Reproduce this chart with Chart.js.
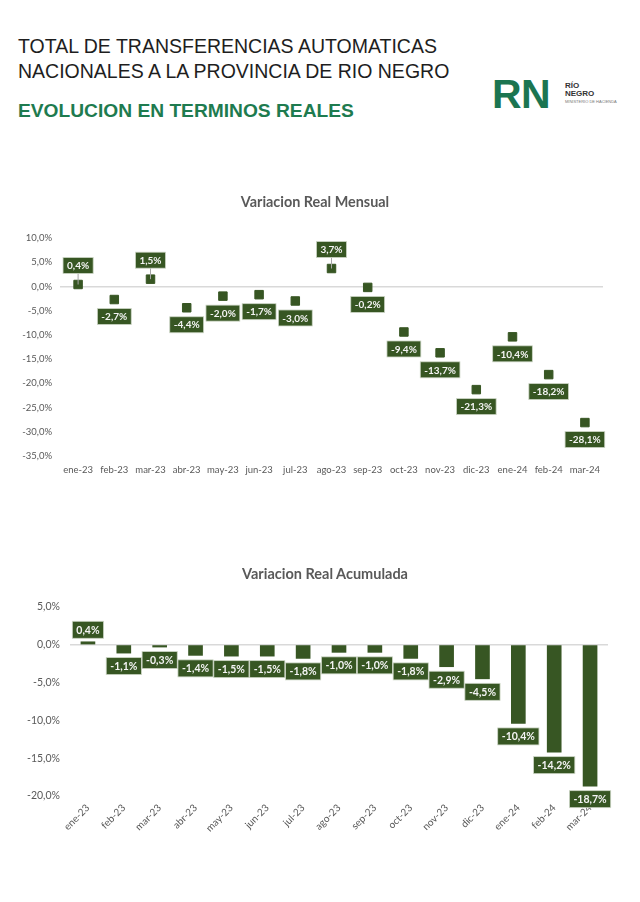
<!DOCTYPE html>
<html>
<head>
<meta charset="utf-8">
<script src="https://cdn.jsdelivr.net/npm/chart.js@4.4.0/dist/chart.umd.min.js"></script>
<style>
  body { margin: 0; background: #fff; width: 640px; height: 902px; position: relative; overflow: hidden; font-family: "Liberation Sans", Arial, sans-serif; }
  .t1 { position: absolute; left: 18px; top: 34px; font-size: 19.5px; line-height: 25px; color: #1e1e1e; }
  .t2 { position: absolute; left: 18px; top: 100px; font-size: 19.2px; font-weight: bold; color: #1e7b4f; }
  .rn { position: absolute; left: 492px; top: 71px; font-size: 41px; font-weight: bold; color: #1b7551; letter-spacing: -0.5px; }
  .rn-side { position: absolute; left: 565px; top: 82px; font-size: 8px; font-weight: bold; line-height: 8px; color: #333; }
  .rn-min { position: absolute; left: 565px; top: 99px; font-size: 4px; color: #777; }
  .ct { position: absolute; width: 300px; text-align: center; font-family: Lato, "Open Sans", sans-serif; font-weight: bold; color: #595959; }
  #ct1 { left: 165px; top: 193px; font-size: 14.4px; }
  #ct2 { left: 175px; top: 565px; font-size: 14.5px; }
  canvas { position: absolute; left: 0; }
  #mensual { top: 185px; }
  #acumulada { top: 555px; }
</style>
</head>
<body>
<div class="t1">TOTAL DE TRANSFERENCIAS AUTOMATICAS<br>NACIONALES A LA PROVINCIA DE RIO NEGRO</div>
<div class="t2">EVOLUCION EN TERMINOS REALES</div>
<div class="rn">RN</div>
<div class="rn-side">RÍO<br>NEGRO</div>
<div class="rn-min">MINISTERIO DE HACIENDA</div>

<canvas id="mensual" width="640" height="300"></canvas>
<canvas id="acumulada" width="640" height="300"></canvas>
<div class="ct" id="ct1">Variacion Real Mensual</div>
<div class="ct" id="ct2">Variacion Real Acumulada</div>

<script>
// --- data ---
const meses = ["ene-23", "feb-23", "mar-23", "abr-23", "may-23", "jun-23", "jul-23", "ago-23",
               "sep-23", "oct-23", "nov-23", "dic-23", "ene-24", "feb-24", "mar-24"];
const variacionMensual = [0.4, -2.7, 1.5, -4.4, -2.0, -1.7, -3.0, 3.7, -0.2, -9.4, -13.7, -21.3, -10.4, -18.2, -28.1];
const variacionAcumulada = [0.4, -1.1, -0.3, -1.4, -1.5, -1.5, -1.8, -1.0, -1.0, -1.8, -2.9, -4.5, -10.4, -14.2, -18.7];

const verde = "#375623";
const gris = "#595959";
const chartFont = "Lato, 'Open Sans', sans-serif";

const pct = v => v.toFixed(1).replace(".", ",") + "%";

// boxed value labels (Excel style)
const boxLabels = {
  id: "boxLabels",
  afterDatasetsDraw(chart, args, opts) {
    const ctx = chart.ctx;
    const vals = chart.data.datasets[0].data;
    ctx.save();
    ctx.font = opts.font;
    ctx.textAlign = "center";
    ctx.textBaseline = "middle";
    chart.getDatasetMeta(0).data.forEach((el, i) => {
      const v = vals[i];
      const txt = pct(v);
      const w = ctx.measureText(txt).width + opts.padX * 2;
      const h = opts.h;
      const cy = v >= 0 ? el.y - opts.up : el.y + opts.down;
      if (v >= 0 && opts.leader) {
        ctx.strokeStyle = "#a6a6a6";
        ctx.lineWidth = 1;
        ctx.beginPath();
        ctx.moveTo(el.x, cy + h / 2);
        ctx.lineTo(el.x, el.y);
        ctx.stroke();
      }
      ctx.fillStyle = verde;
      ctx.fillRect(el.x - w / 2, cy - h / 2, w, h);
      ctx.strokeStyle = "#cdd6c6";
      ctx.lineWidth = 0.8;
      ctx.strokeRect(el.x - w / 2, cy - h / 2, w, h);
      ctx.fillStyle = "#f4f4f4";
      ctx.fillText(txt, el.x, cy + 0.5);
    });
    ctx.restore();
  }
};

const zeroGrid = c => (c.tick && c.tick.value === 0 ? "#d9d9d9" : "rgba(0,0,0,0)");

// === Variacion Real Mensual ===
new Chart(document.getElementById("mensual"), {
  type: "line",
  data: {
    labels: meses,
    datasets: [{
      data: variacionMensual,
      showLine: false,
      pointStyle: "rect",
      pointRadius: 6,
      pointHoverRadius: 6,
      backgroundColor: verde,
      borderColor: verde,
      borderWidth: 1
    }]
  },
  options: {
    responsive: false,
    animation: false,
    layout: { padding: { left: 0, right: 37, top: 53, bottom: 0 } },
    scales: {
      x: {
        offset: true,
        grid: { display: false, drawTicks: false },
        border: { display: false },
        ticks: { color: gris, font: { family: chartFont, size: 9.5 }, padding: 8, maxRotation: 0, autoSkip: false },
        afterFit: s => { s.height = 29; }
      },
      y: {
        min: -35, max: 10,
        grid: { color: zeroGrid, lineWidth: 1.5, drawTicks: false },
        border: { display: false },
        ticks: { stepSize: 5, color: gris, font: { family: chartFont, size: 9.5 }, padding: 8, callback: v => pct(v) },
        afterFit: s => { s.width = 60; }
      }
    },
    plugins: {
      legend: { display: false },
      tooltip: { enabled: false },
      boxLabels: { font: "bold 10px " + chartFont, padX: 4, h: 16, up: 19, down: 17, leader: true }
    }
  },
  plugins: [boxLabels]
});

// === Variacion Real Acumulada ===
new Chart(document.getElementById("acumulada"), {
  type: "bar",
  data: {
    labels: meses,
    datasets: [{
      data: variacionAcumulada,
      backgroundColor: verde,
      barThickness: 14
    }]
  },
  options: {
    responsive: false,
    animation: false,
    layout: { padding: { left: 0, right: 32, top: 52, bottom: 0 } },
    scales: {
      x: {
        grid: { display: false, drawTicks: false },
        border: { display: false },
        ticks: { color: gris, font: { family: chartFont, size: 10 }, padding: 6, minRotation: 45, maxRotation: 45, autoSkip: false },
        afterFit: s => { s.height = 59; }
      },
      y: {
        min: -20, max: 5,
        grid: { color: zeroGrid, lineWidth: 1.5, drawTicks: false },
        border: { display: false },
        ticks: { stepSize: 5, color: gris, font: { family: chartFont, size: 10.5 }, padding: 10, callback: v => pct(v) },
        afterFit: s => { s.width = 70; }
      }
    },
    plugins: {
      legend: { display: false },
      tooltip: { enabled: false },
      boxLabels: { font: "bold 10.5px " + chartFont, padX: 4, h: 17, up: 12, down: 13, leader: false }
    }
  },
  plugins: [boxLabels]
});
</script>
</body>
</html>
